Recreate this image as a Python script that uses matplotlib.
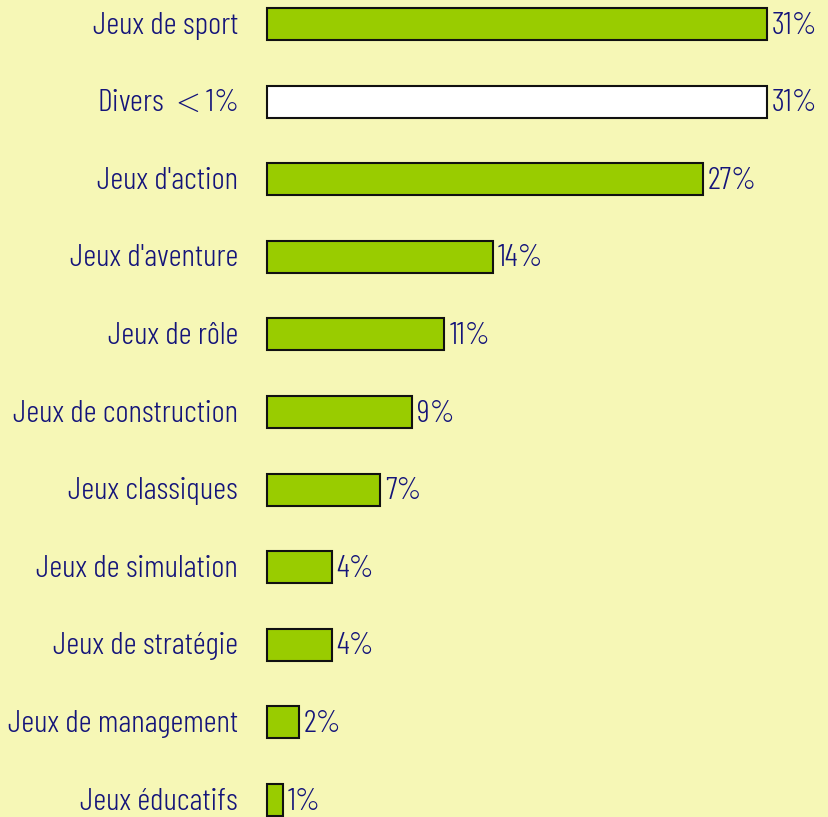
import matplotlib
matplotlib.use("Agg")
import matplotlib.pyplot as plt

categories = ["Jeux de sport", "Divers $<$1%", "Jeux d'action", "Jeux d'aventure",
              "Jeux de rôle", "Jeux de construction", "Jeux classiques",
              "Jeux de simulation", "Jeux de stratégie", "Jeux de management",
              "Jeux éducatifs"]
values = [31, 31, 27, 14, 11, 9, 7, 4, 4, 2, 1]
labels = ["31%", "31%", "27%", "14%", "11%", "9%", "7%", "4%", "4%", "2%", "1%"]
bar_colors = ["#99cc00", "#ffffff"] + ["#99cc00"] * 9

plt.rcParams["font.family"] = ["Barlow Condensed", "DejaVu Sans"]
plt.rcParams["font.weight"] = 300
plt.rcParams["mathtext.fontset"] = "cm"

bg = "#f6f7b6"
navy = "#14147a"

fig = plt.figure(figsize=(8.29, 8.17), dpi=100, facecolor=bg)
ax = fig.add_axes([0, 0, 1, 1])
ax.set_facecolor(bg)

y = list(range(len(values)))
ax.barh(y, values, height=0.41, color=bar_colors, edgecolor="#111111", linewidth=1.5)

for yi, v, lab in zip(y, values, labels):
    ax.text(v + 0.3, yi + 0.02, lab, va="center", ha="left", color=navy, fontsize=23)
for yi, c in zip(y, categories):
    ax.text(-1.8, yi + 0.02, c, va="center", ha="right", color=navy, fontsize=23)

ax.set_xlim(-267 / 16.13, (829 - 267) / 16.13)
ax.set_ylim((817 - 24) / 77.6, -24 / 77.6)
ax.axis("off")

fig.savefig("out.png", dpi=100, facecolor=bg)
